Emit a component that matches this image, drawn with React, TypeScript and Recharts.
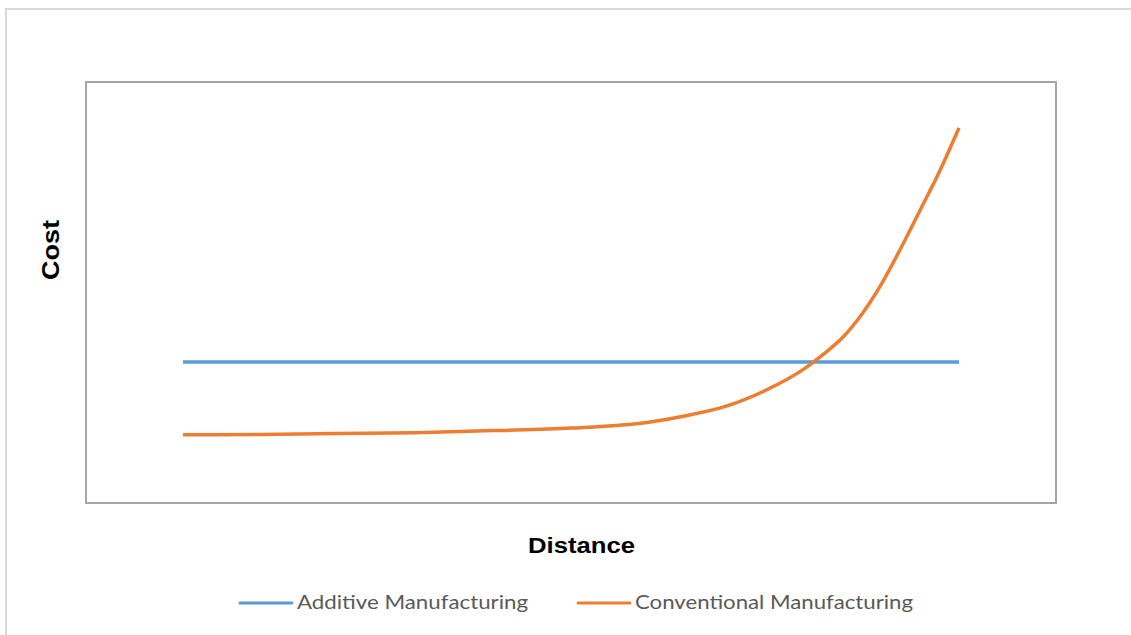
import React from 'react';
import { LineChart, Line, XAxis, YAxis, ReferenceArea, Legend, Customized } from 'recharts';

const distance = [0, 4, 8, 12, 16, 20, 24, 26, 28, 30, 32, 33, 34, 35, 36, 37, 38, 39, 40];
const additive = [33.5, 33.5, 33.5, 33.5, 33.5, 33.5, 33.5, 33.5, 33.5, 33.5, 33.5, 33.5, 33.5, 33.5, 33.5, 33.5, 33.5, 33.5, 33.5];
const conventional = [16.2, 16.3, 16.5, 16.7, 17.2, 17.8, 19.2, 20.8, 23.0, 26.7, 31.8, 35.3, 39.3, 44.9, 52.0, 60.5, 69.6, 78.8, 89.1];
const seriesNames = ['Additive Manufacturing', 'Conventional Manufacturing'];
const seriesColors = ['#5B9BD5', '#ED7D31'];
const xTitle = 'Distance';
const yTitle = 'Cost';

const data = distance.map((d, i) => ({ d, a: additive[i], c: conventional[i] }));

const W = 1131;
const H = 635;
const LEGEND_H = 40;

const Titles = () => (
  <g>
    <text
      x={581.5}
      y={553}
      textAnchor="middle"
      fontFamily="'Liberation Sans', Arial, sans-serif"
      fontWeight="bold"
      fontSize={22}
      fill="#000"
      textLength={107}
      lengthAdjust="spacingAndGlyphs"
    >
      {xTitle}
    </text>
    <text
      x={50}
      y={250 + 8.6}
      transform="rotate(-90, 50, 250)"
      textAnchor="middle"
      fontFamily="'Liberation Sans', Arial, sans-serif"
      fontWeight="bold"
      fontSize={24}
      fill="#000"
      textLength={60}
      lengthAdjust="spacingAndGlyphs"
    >
      {yTitle}
    </text>
  </g>
);

const legendLayout = [
  { lx1: 240, lx2: 292, tx: 297, tw: 231 },
  { lx1: 578, lx2: 630, tx: 635, tw: 278 },
];

const renderLegend = (props: any) => {
  const payload = props.payload || [];
  return (
    <svg width={W} height={LEGEND_H} style={{ display: 'block' }}>
      {payload.map((p: any, i: number) => {
        const L = legendLayout[i] || legendLayout[0];
        return (
          <g key={i}>
            <line x1={L.lx1} x2={L.lx2} y1={15} y2={15} stroke={p.color} strokeWidth={3} strokeLinecap="round" />
            <text
              x={L.tx}
              y={21}
              fontFamily="Lato, 'Open Sans', sans-serif"
              fontSize={19}
              fill="#595959"
              textLength={L.tw}
              lengthAdjust="spacingAndGlyphs"
            >
              {p.value}
            </text>
          </g>
        );
      })}
    </svg>
  );
};

export default function App() {
  return (
    <div style={{ position: 'absolute', left: 0, top: 0, width: W, height: H, overflow: 'hidden', background: '#fff' }}>
      <div
        style={{
          position: 'absolute',
          left: 5,
          top: 8,
          width: 1300,
          height: 800,
          border: '2px solid #d9d9d9',
          boxSizing: 'border-box',
        }}
      />
      <div style={{ position: 'absolute', left: 0, top: 0 }}>
        <LineChart width={W} height={H} data={data} margin={{ top: 82, left: 86, right: 75, bottom: 132 - LEGEND_H }}>
          <XAxis dataKey="d" type="number" domain={[-5, 45]} hide />
          <YAxis type="number" domain={[0, 100]} hide />
          <ReferenceArea x1={-5} x2={45} y1={0} y2={100} stroke="#A6A6A6" strokeWidth={2} fill="none" fillOpacity={0} ifOverflow="visible" />
          <Line
            type="monotone"
            dataKey="a"
            name={seriesNames[0]}
            stroke={seriesColors[0]}
            strokeWidth={3.5}
            dot={false}
            isAnimationActive={false}
          />
          <Line
            type="monotone"
            dataKey="c"
            name={seriesNames[1]}
            stroke={seriesColors[1]}
            strokeWidth={3.5}
            dot={false}
            isAnimationActive={false}
          />
          <Legend
            content={renderLegend}
            wrapperStyle={{ position: 'absolute', left: 0, top: 588, width: W, height: LEGEND_H }}
          />
          <Customized component={<Titles />} />
        </LineChart>
      </div>
    </div>
  );
}
